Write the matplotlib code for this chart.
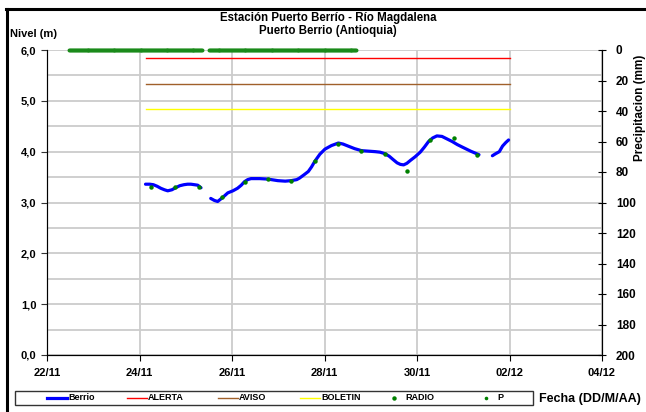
import numpy as np
import matplotlib
matplotlib.use('Agg')
import matplotlib.pyplot as plt
from matplotlib.lines import Line2D
from matplotlib.patches import Rectangle

plt.rcParams['font.family'] = ['Liberation Sans', 'DejaVu Sans']
plt.rcParams['font.weight'] = 'bold'

# time axis in days after 22/11 00:00
x_labels = ['22/11', '24/11', '26/11', '28/11', '30/11', '02/12', '04/12']
y_labels = ['0,0', '1,0', '2,0', '3,0', '4,0', '5,0', '6,0']

# nivel Berrio (m), nan = hueco en la serie
berrio_t = [2.13, 2.22, 2.30, 2.38, 2.46, 2.54, 2.61, 2.70, 2.78, 2.87, 2.96, 3.04, 3.11, 3.19, 3.26, 3.33,
            3.43,
            3.54, 3.62, 3.69, 3.80, 3.91, 4.02, 4.12, 4.20, 4.27, 4.34, 4.41, 4.60, 4.78, 4.99, 5.15, 5.28,
            5.40, 5.46, 5.55, 5.65, 5.72, 5.79, 5.90, 6.01, 6.15, 6.30, 6.40, 6.51, 6.65, 6.80, 6.95, 7.10,
            7.20, 7.31, 7.40, 7.49, 7.57, 7.64, 7.71, 7.78, 7.86, 7.96, 8.07, 8.16, 8.25, 8.34, 8.43, 8.54,
            8.65, 8.76, 8.87, 8.98, 9.16, 9.34,
            9.48,
            9.63, 9.70, 9.78, 9.85, 9.92, 9.98]
berrio_v = [3.36, 3.36, 3.35, 3.32, 3.28, 3.25, 3.23, 3.25, 3.29, 3.33, 3.35, 3.36, 3.36, 3.35, 3.34, 3.29,
            np.nan,
            3.08, 3.04, 3.02, 3.10, 3.19, 3.23, 3.28, 3.34, 3.41, 3.45, 3.47, 3.47, 3.46, 3.43, 3.42, 3.43,
            3.45, 3.48, 3.54, 3.61, 3.70, 3.81, 3.95, 4.05, 4.12, 4.17, 4.15, 4.11, 4.06, 4.02, 4.01, 4.00,
            3.99, 3.96, 3.91, 3.84, 3.78, 3.75, 3.74, 3.77, 3.83, 3.90, 3.99, 4.09, 4.20, 4.27, 4.31, 4.30,
            4.25, 4.20, 4.14, 4.09, 4.01, 3.94,
            np.nan,
            3.92, 3.96, 4.00, 4.11, 4.18, 4.23]

# lecturas RADIO
radio_t = [2.25, 2.77, 3.28, 3.78, 4.28, 4.78, 5.28, 5.79, 6.30, 6.79, 7.30, 7.78, 8.29, 8.80, 9.30]
radio_v = [3.31, 3.30, 3.30, 3.10, 3.41, 3.46, 3.43, 3.81, 4.16, 4.02, 3.96, 3.61, 4.23, 4.26, 3.94]

# umbrales
umbral_t = [2.13, 10.0]
alerta = 5.84
aviso = 5.33
boletin = 4.84

# precipitacion cada 30 min (mm), todo en cero
p_t = np.concatenate([np.arange(0.48, 3.37, 1 / 48), np.arange(3.50, 6.70, 1 / 48)])
p_v = np.zeros(len(p_t))

W, H = 646, 412


def fx(px):
    return px / W


def fy(py):
    return 1 - py / H


fig = plt.figure(figsize=(W / 100, H / 100), dpi=100)
ax = fig.add_axes([fx(47), fy(355), 555 / W, 305 / H])
ax.set_xlim(0, 12)
ax.set_ylim(0, 6)

ax.plot(umbral_t, [alerta, alerta], color='#ff0000', lw=1.0)
ax.plot(umbral_t, [aviso, aviso], color='#a0602a', lw=1.0)
ax.plot(umbral_t, [boletin, boletin], color='#ffff00', lw=1.0)
ax.plot(berrio_t, berrio_v, color='#0000ff', lw=2.3, solid_capstyle='round')
ax.plot(radio_t, radio_v, 'o', color='#008000', ms=3.2, mec='none')

ax.set_xticks(range(0, 13, 2))
ax.set_xticklabels(x_labels, fontsize=8)
ax.set_yticks(range(7))
ax.set_yticklabels(y_labels, fontsize=8)
ax.set_yticks(np.arange(0.5, 6, 1), minor=True)
ax.tick_params(axis='y', which='minor', length=0)
ax.tick_params(axis='y', which='major', direction='out', length=4, pad=3.5, color='#333333')
ax.tick_params(axis='x', direction='out', length=4, pad=5.5, color='black')
ax.grid(which='both', axis='y', color='#cccccc', lw=1.3)
ax.grid(which='major', axis='x', color='#cccccc', lw=1.3)
ax.set_axisbelow(True)
ax.spines['top'].set_visible(False)
ax.spines['left'].set_color('#333333')
ax.spines['bottom'].set_color('black')

ax2 = ax.twinx()
ax2.set_ylim(200, 0)
ax2.set_yticks(range(0, 201, 20))
ax2.tick_params(axis='y', direction='inout', length=6, pad=7, labelsize=8.5, color='black')
ax2.plot(p_t, p_v, 'o', color='#1a8a1a', ms=2.8, mec='none', clip_on=False)
ax2.spines['top'].set_visible(False)
ax2.spines['right'].set_color('black')

# textos
fig.text(fx(328), fy(18), 'Estación Puerto Berrío - Río Magdalena', ha='center', va='center', fontsize=8.3)
fig.text(fx(328), fy(31), 'Puerto Berrio (Antioquia)', ha='center', va='center', fontsize=8.3)
fig.text(fx(10), fy(34), 'Nivel (m)', ha='left', va='center', fontsize=8)
fig.text(fx(640), fy(108), 'Precipitacion (mm)', ha='center', va='center', rotation=90, fontsize=8.5)
fig.text(fx(539), fy(399), 'Fecha (DD/M/AA)', ha='left', va='center', fontsize=9)

# marco exterior
fig.add_artist(Line2D([fx(7), fx(7)], [0, fy(9)], color='black', lw=2.2, transform=fig.transFigure))
fig.add_artist(Line2D([fx(6), 1], [fy(9), fy(9)], color='black', lw=2.2, transform=fig.transFigure))

# leyenda
fig.add_artist(Rectangle((fx(15), fy(405)), (533 - 15) / W, 14 / H, transform=fig.transFigure,
                         facecolor='white', edgecolor='#333333', lw=1.0))
ly = fy(398)
line_entries = [('Berrio', '#0000ff', 47, 2.3), ('ALERTA', '#ff0000', 127, 1.0),
                ('AVISO', '#a0602a', 218, 1.0), ('BOLETIN', '#ffff00', 300, 1.0)]
for name, col, x0, lw in line_entries:
    fig.add_artist(Line2D([fx(x0), fx(x0 + 20)], [ly, ly], color=col, lw=lw, transform=fig.transFigure))
    fig.text(fx(x0 + 21), ly, name, ha='left', va='center', fontsize=6.5)
for name, x0, ms in [('RADIO', 394, 3.2), ('P', 486, 2.6)]:
    fig.add_artist(Line2D([fx(x0)], [ly], marker='o', color='#008000', ms=ms, mec='none',
                          transform=fig.transFigure))
    fig.text(fx(x0 + 11), ly, name, ha='left', va='center', fontsize=6.5)

fig.savefig('out.png', dpi=100)
